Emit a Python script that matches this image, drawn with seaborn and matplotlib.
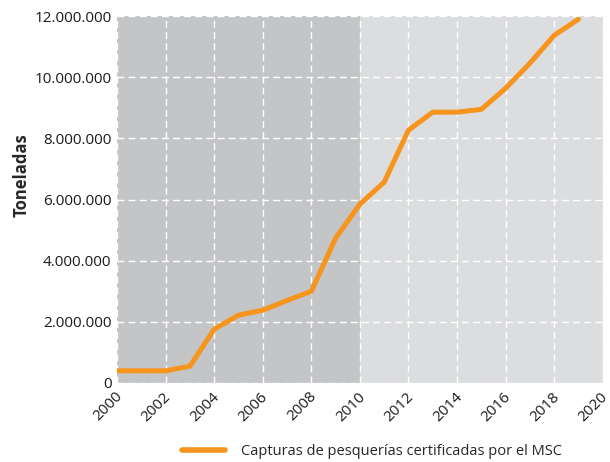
import numpy as np
import pandas as pd
import matplotlib
matplotlib.use("Agg")
import matplotlib.pyplot as plt
from matplotlib.ticker import FuncFormatter, MultipleLocator
from matplotlib.transforms import ScaledTranslation
import seaborn as sns

# Data
years = list(range(2000, 2020))
catches = [400000, 400000, 400000, 550000, 1760000, 2220000, 2380000, 2700000,
           3000000, 4740000, 5850000, 6570000, 8270000, 8860000, 8860000,
           8950000, 9640000, 10460000, 11370000, 11900000]
series_label = "Capturas de pesquerías certificadas por el MSC"

df = pd.DataFrame({"year": years, "tonnes": catches, "serie": series_label})

sns.set_theme(style="white")
plt.rcParams['font.family'] = ['Open Sans', 'DejaVu Sans']

fig = plt.figure(figsize=(6.1, 4.62), dpi=100)
ax = fig.add_axes([0.192, 0.171, 0.796, 0.794])

# shaded periods
ax.axvspan(2000, 2010, color="#c4c5c7", zorder=0, lw=0)
ax.axvspan(2010, 2020, color="#dcdddf", zorder=0, lw=0)

sns.lineplot(data=df, x="year", y="tonnes", hue="serie", palette=["#f7941d"],
             linewidth=3.6, ax=ax, zorder=3, legend=True)

ax.set_xlim(2000, 2020)
ax.set_ylim(0, 12000000)
ax.xaxis.set_major_locator(MultipleLocator(2))
ax.yaxis.set_major_locator(MultipleLocator(2000000))
ax.yaxis.set_major_formatter(FuncFormatter(lambda v, p: f"{v:,.0f}".replace(",", ".")))

ax.grid(True, color="white", linestyle=(0, (5, 3)), linewidth=1, zorder=1)
ax.set_axisbelow(False)
for gl in ax.get_xgridlines() + ax.get_ygridlines():
    gl.set_zorder(1)

for s in ax.spines.values():
    s.set_visible(False)

ax.tick_params(axis="y", length=0, labelsize=11, colors="#1a1a1a", pad=4)
ax.tick_params(axis="x", length=0, labelsize=11, colors="#1a1a1a", pad=9)
shift = ScaledTranslation(3 / 100, 1 / 100, fig.dpi_scale_trans)
for lbl in ax.get_xticklabels():
    lbl.set_rotation(45)
    lbl.set_ha("right")
    lbl.set_va("center")
    lbl.set_rotation_mode("anchor")
    lbl.set_transform(lbl.get_transform() + shift)
ax.set_xlabel("")
ax.set_ylabel("Toneladas", fontsize=12, fontweight="bold")
ax.yaxis.set_label_coords(-0.178, 0.567)

leg = ax.legend(loc="upper center", bbox_to_anchor=(0.525, -0.13), frameon=False,
                fontsize=10.5, handlelength=3, handletextpad=1.1)
for line in leg.get_lines():
    line.set_linewidth(4)

fig.savefig("out.png", dpi=100)
